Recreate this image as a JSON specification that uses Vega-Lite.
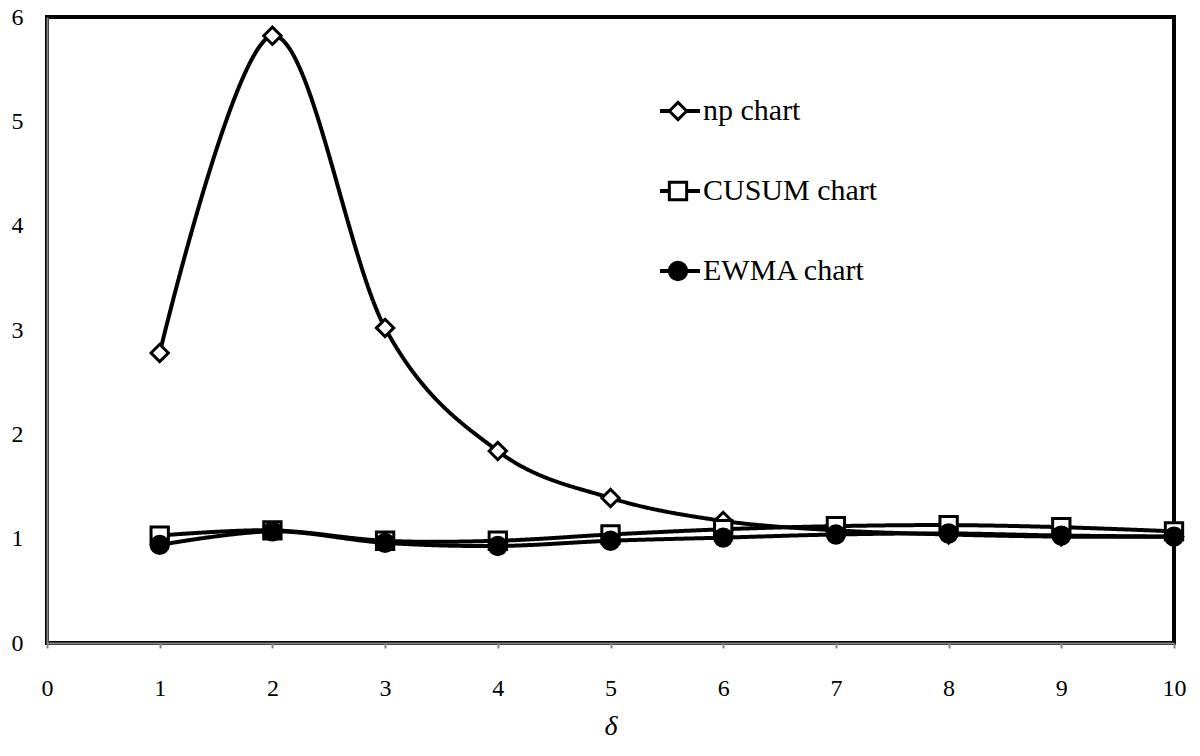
{
  "$schema": "https://vega.github.io/schema/vega-lite/v6.json",
  "width": 1127,
  "height": 626,
  "autosize": "none",
  "padding": {"left": 47, "top": 17, "right": 26, "bottom": 113},
  "background": "white",
  "config": {
    "view": {"stroke": "black", "strokeWidth": 4},
    "font": "Liberation Serif"
  },
  "data": {
    "values": [
      {"delta": 1, "series": "np chart", "value": 2.78},
      {"delta": 2, "series": "np chart", "value": 5.82},
      {"delta": 3, "series": "np chart", "value": 3.02},
      {"delta": 4, "series": "np chart", "value": 1.84},
      {"delta": 5, "series": "np chart", "value": 1.39},
      {"delta": 6, "series": "np chart", "value": 1.17},
      {"delta": 7, "series": "np chart", "value": 1.08},
      {"delta": 8, "series": "np chart", "value": 1.04},
      {"delta": 9, "series": "np chart", "value": 1.02},
      {"delta": 10, "series": "np chart", "value": 1.02},
      {"delta": 1, "series": "CUSUM chart", "value": 1.03},
      {"delta": 2, "series": "CUSUM chart", "value": 1.08},
      {"delta": 3, "series": "CUSUM chart", "value": 0.98},
      {"delta": 4, "series": "CUSUM chart", "value": 0.98},
      {"delta": 5, "series": "CUSUM chart", "value": 1.04},
      {"delta": 6, "series": "CUSUM chart", "value": 1.09},
      {"delta": 7, "series": "CUSUM chart", "value": 1.12},
      {"delta": 8, "series": "CUSUM chart", "value": 1.13},
      {"delta": 9, "series": "CUSUM chart", "value": 1.11},
      {"delta": 10, "series": "CUSUM chart", "value": 1.07},
      {"delta": 1, "series": "EWMA chart", "value": 0.94},
      {"delta": 2, "series": "EWMA chart", "value": 1.07},
      {"delta": 3, "series": "EWMA chart", "value": 0.96},
      {"delta": 4, "series": "EWMA chart", "value": 0.93},
      {"delta": 5, "series": "EWMA chart", "value": 0.98},
      {"delta": 6, "series": "EWMA chart", "value": 1.01},
      {"delta": 7, "series": "EWMA chart", "value": 1.04},
      {"delta": 8, "series": "EWMA chart", "value": 1.05},
      {"delta": 9, "series": "EWMA chart", "value": 1.03},
      {"delta": 10, "series": "EWMA chart", "value": 1.02}
    ]
  },
  "encoding": {
    "x": {
      "field": "delta",
      "type": "quantitative",
      "scale": {"domain": [0, 10], "nice": false},
      "axis": {
        "title": "δ",
        "titleFont": "Liberation Serif",
        "titleFontStyle": "italic",
        "titleFontWeight": "normal",
        "titleFontSize": 28,
        "titleColor": "black",
        "titlePadding": 12,
        "values": [0, 1, 2, 3, 4, 5, 6, 7, 8, 9, 10],
        "labelFont": "Liberation Serif",
        "labelFontSize": 24,
        "labelColor": "black",
        "labelPadding": 28,
        "labelFlush": false,
        "grid": false,
        "ticks": true,
        "tickSize": 5,
        "tickColor": "#868686",
        "tickWidth": 2,
        "domainColor": "#868686",
        "domainWidth": 2,
        "zindex": 1
      }
    },
    "y": {
      "field": "value",
      "type": "quantitative",
      "scale": {"domain": [0, 6], "nice": false},
      "axis": {
        "title": null,
        "values": [0, 1, 2, 3, 4, 5, 6],
        "labelFont": "Liberation Serif",
        "labelFontSize": 24,
        "labelColor": "black",
        "labelPadding": 24,
        "labelFlush": false,
        "grid": false,
        "ticks": false,
        "domainColor": "#868686",
        "domainWidth": 2,
        "zindex": 1
      }
    }
  },
  "layer": [
    {
      "mark": {"type": "line", "interpolate": "cardinal", "stroke": "black", "strokeWidth": 4},
      "encoding": {
        "strokeDash": {
          "field": "series",
          "type": "nominal",
          "sort": ["np chart", "CUSUM chart", "EWMA chart"],
          "scale": {"range": [[1, 0], [1, 0], [1, 0]]},
          "legend": {
            "title": null,
            "orient": "none",
            "legendX": 618,
            "legendY": 79,
            "padding": 0,
            "rowPadding": 50,
            "symbolType": "M-2,0L2,0",
            "symbolSize": 400,
            "symbolStrokeWidth": 4,
            "symbolStrokeColor": "black",
            "symbolOpacity": 1,
            "labelFont": "Liberation Serif",
            "labelFontSize": 30,
            "labelColor": "black",
            "labelOffset": 8,
            "labelLimit": 400
          }
        }
      }
    },
    {
      "mark": {"type": "point", "filled": true, "stroke": "black", "strokeWidth": 3, "opacity": 1, "size": 300},
      "encoding": {
        "shape": {
          "field": "series",
          "type": "nominal",
          "scale": {"domain": ["np chart", "CUSUM chart", "EWMA chart"], "range": ["diamond", "square", "circle"]},
          "legend": {
            "title": null,
            "orient": "none",
            "legendX": 616,
            "legendY": 79,
            "padding": 0,
            "rowPadding": 50,
            "symbolSize": 300,
            "symbolStrokeWidth": 3,
            "labelExpr": "' '",
            "labelFont": "Liberation Serif",
            "labelFontSize": 30,
            "labelColor": "black",
            "labelOffset": 8,
            "labelLimit": 400
          }
        },
        "fill": {
          "field": "series",
          "type": "nominal",
          "scale": {"domain": ["np chart", "CUSUM chart", "EWMA chart"], "range": ["white", "white", "black"]},
          "legend": null
        }
      }
    }
  ]
}
